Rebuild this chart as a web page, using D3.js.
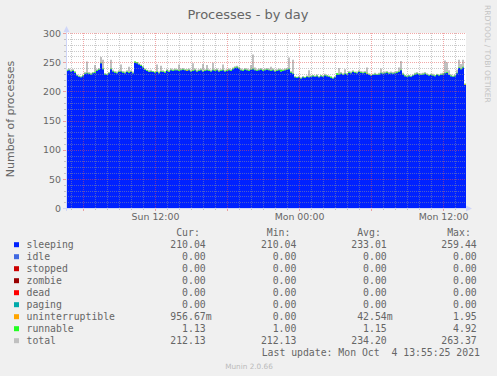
<!DOCTYPE html>
<html><head><meta charset="utf-8">
<script src="https://cdn.jsdelivr.net/npm/d3@7"></script>
<style>
html,body{margin:0;padding:0;background:#f0f0f0;}
svg{display:block;}
text{font-family:"DejaVu Sans",sans-serif;}
.mono{font-family:"DejaVu Sans Mono",monospace;white-space:pre;}
</style></head><body><svg id="c" width="497" height="376"></svg>
<script>
const title = "Processes - by day";
const yLabel = "Number of processes";
const watermark = "RRDTOOL / TOBI OETIKER";
const footer = "Munin 2.0.66";
const lastUpdate = "Last update: Mon Oct  4 13:55:25 2021";
const startTime = new Date(2021, 9, 3, 4, 35);
const endTime = new Date(2021, 9, 4, 13, 55);
const stepMinutes = 10;

const sleeping = [
235,236,234,235,232,227,225,224,226,230,231,230,229,231,232,235,237,248,238,229,
228,231,238,234,232,231,233,234,232,231,233,232,233,231,249,248,246,244,241,237,
235,233,234,233,232,233,231,234,233,232,235,233,236,235,236,236,235,236,237,236,
235,236,234,235,236,234,235,236,234,235,236,235,234,236,235,236,234,235,236,234,
235,236,235,238,240,241,239,236,235,237,236,235,237,238,236,235,236,237,235,236,
237,236,235,236,234,235,236,234,235,236,237,238,232,230,224,223,224,222,224,223,
225,224,225,226,225,226,224,226,225,227,226,225,223,222,224,228,229,230,228,230,
229,232,231,233,232,231,233,232,231,232,230,228,227,228,229,228,229,231,230,231,
232,230,231,230,231,232,233,236,229,226,225,226,225,227,229,230,229,228,229,230,
228,227,228,227,226,228,227,228,229,231,232,228,226,225,226,231,240,238,241,211];

const total = [
238,239,237,238,235,229,227,226,228,233,251,233,232,233,245,238,240,259,254,231,
230,233,254,237,235,234,236,246,235,234,236,242,236,234,251,250,248,246,243,239,
237,236,237,235,234,246,234,244,236,235,238,236,239,238,239,238,246,239,240,238,
238,239,237,248,239,237,238,239,247,238,245,238,237,249,238,239,237,238,246,237,
238,239,238,241,243,244,242,239,238,240,239,238,245,263,241,238,239,240,238,239,
240,239,242,239,237,238,239,238,238,239,240,258,235,254,226,225,226,224,226,225,
227,236,227,228,227,229,226,228,227,230,228,227,226,224,226,231,240,233,231,238,
231,235,234,236,234,234,236,235,234,235,241,231,229,230,232,230,232,239,233,234,
235,233,234,233,234,235,241,252,232,228,227,228,227,229,232,233,231,231,232,233,
231,229,230,230,228,230,229,231,232,253,250,236,229,227,229,237,254,247,254,213];

const runnable = [
1,1,1,1,1,1,1,1,1,1,1,1,1,1,1,1,1,1,1,1,
1,1,1,1,1,1,1,1,1,1,1,1,1,1,2,2,1,1,1,1,
1,1,1,1,1,1,1,1,1,1,1,1,1,1,1,1,1,1,1,1,
1,1,1,1,1,1,1,1,1,1,1,1,1,1,1,1,1,1,1,1,
1,1,1,1,1,1,1,1,1,1,1,1,1,1,1,1,1,1,1,1,
1,1,1,1,1,1,1,3,1,1,1,1,1,1,1,1,1,1,1,1,
1,1,1,1,1,1,1,1,1,1,1,1,2,1,1,3,1,1,1,1,
1,1,1,1,1,1,1,1,1,1,1,1,1,1,1,1,1,1,1,1,
1,1,1,1,1,1,1,1,1,1,1,1,1,1,1,1,1,1,1,1,
1,1,1,1,1,1,1,1,1,1,1,1,1,1,1,1,1,1,1,1];

// sparse non-zero uninterruptible samples: [sample index, value]
const uninterruptibleSpikes = [[60, 1], [150, 1], [199, 1]];

const yTicks = [0, 50, 100, 150, 200, 250, 300];

const legendNames = ["sleeping","idle","stopped","zombie","dead","paging","uninterruptible","runnable","total"];
const legendColors = ["#0022ff","#4169e1","#cc0000","#990000","#ff0000","#00aaaa","#ffa500","#22ff22","#c0c0c0"];
const curVals = ["210.04","0.00","0.00","0.00","0.00","0.00","956.67m","1.13","212.13"];
const minVals = ["210.04","0.00","0.00","0.00","0.00","0.00","0.00","1.00","212.13"];
const avgVals = ["233.01","0.00","0.00","0.00","0.00","0.00","42.54m","1.15","234.20"];
const maxVals = ["259.44","0.00","0.00","0.00","0.00","0.00","1.95","4.92","263.37"];
const colHeaders = ["Cur:","Min:","Avg:","Max:"];

const svg = d3.select("#c");
const L = 66, R = 466, T = 33, B = 208;
const x = d3.scaleTime().domain([startTime, endTime]).range([L, R]);
const y = d3.scaleLinear().domain([0, 300]).range([B, T]);
const FONT = "#666666";

const n = sleeping.length;
const tAt = i => new Date(startTime.getTime() + i * stepMinutes * 60000);
const unint = new Array(n).fill(0);
uninterruptibleSpikes.forEach(([i, v]) => unint[i] = v);
const rows = d3.range(n + 1).map(k => {
  const i = Math.min(k, n - 1);
  return { t: tAt(k), sleeping: sleeping[i], uninterruptible: unint[i], runnable: runnable[i], total: total[i] };
});

svg.append("rect").attr("x", L).attr("y", T).attr("width", R - L).attr("height", B - T).attr("fill", "#fff");

const g = svg.append("g");
g.append("path").datum(rows)
  .attr("fill", "#c0c0c0")
  .attr("d", d3.area().curve(d3.curveStepAfter).x(d => x(d.t)).y0(y(0)).y1(d => y(d.total)));

const stack = d3.stack().keys(["sleeping", "uninterruptible", "runnable"])(rows);
const stackColors = { sleeping: "#0022ff", uninterruptible: "#ffa500", runnable: "#22ff22" };
g.selectAll(".layer").data(stack).join("path")
  .attr("fill", d => stackColors[d.key])
  .attr("d", d3.area().curve(d3.curveStepAfter).x(d => x(d.data.t)).y0(d => y(d[0])).y1(d => y(d[1])));

const gridMinor = "rgba(150,150,150,0.5)";
const gridMajor = "rgba(230,80,80,0.5)";
const hours = x.ticks(d3.timeHour.every(1));
const majorHours = x.ticks(d3.timeHour.every(6));
const majorSet = new Set(majorHours.map(d => +d));
const grid = svg.append("g").attr("shape-rendering", "crispEdges");
const yMinor = d3.range(0, 301, 10);
grid.selectAll(".hm").data(yMinor.filter(v => v % 50 !== 0)).join("line")
  .attr("x1", L).attr("x2", R).attr("y1", d => Math.round(y(d)) + 0.5).attr("y2", d => Math.round(y(d)) + 0.5)
  .attr("stroke", gridMinor).attr("stroke-dasharray", "1,1");
grid.selectAll(".vm").data(hours.filter(d => !majorSet.has(+d))).join("line")
  .attr("x1", d => Math.round(x(d)) + 0.5).attr("x2", d => Math.round(x(d)) + 0.5).attr("y1", T).attr("y2", B)
  .attr("stroke", gridMinor).attr("stroke-dasharray", "1,1");
grid.selectAll(".hM").data(yTicks.filter(v => v > 0)).join("line")
  .attr("x1", L).attr("x2", R).attr("y1", d => Math.round(y(d)) + 0.5).attr("y2", d => Math.round(y(d)) + 0.5)
  .attr("stroke", gridMajor).attr("stroke-dasharray", "1,1");
grid.selectAll(".vM").data(majorHours).join("line")
  .attr("x1", d => Math.round(x(d)) + 0.5).attr("x2", d => Math.round(x(d)) + 0.5).attr("y1", T).attr("y2", B)
  .attr("stroke", gridMajor).attr("stroke-dasharray", "1,1");

grid.selectAll(".tx").data(hours).join("line")
  .attr("x1", d => Math.round(x(d)) + 0.5).attr("x2", d => Math.round(x(d)) + 0.5)
  .attr("y1", B).attr("y2", d => B + (majorSet.has(+d) ? 3 : 2))
  .attr("stroke", d => majorSet.has(+d) ? gridMajor : gridMinor);
grid.selectAll(".ty").data(yMinor).join("line")
  .attr("y1", d => Math.round(y(d)) + 0.5).attr("y2", d => Math.round(y(d)) + 0.5)
  .attr("x1", d => L - (d % 50 === 0 ? 3 : 2)).attr("x2", L)
  .attr("stroke", d => d % 50 === 0 ? gridMajor : gridMinor);

const AX = "#cfd6f8";
svg.append("line").attr("x1", L + 0.5).attr("x2", L + 0.5).attr("y1", B + 3).attr("y2", T - 4).attr("stroke", AX);
svg.append("line").attr("x1", L - 3).attr("x2", R + 3).attr("y1", B + 0.5).attr("y2", B + 0.5).attr("stroke", AX);
svg.append("path").attr("d", `M${L + 0.5},${T - 7} L${L - 2.5},${T - 1} L${L + 3.5},${T - 1} Z`).attr("fill", AX);
svg.append("path").attr("d", `M${R + 6},${B + 0.5} L${R},${B - 2.5} L${R},${B + 3.5} Z`).attr("fill", AX);

const yAxis = svg.append("g").attr("transform", `translate(${L - 5},0)`)
  .call(d3.axisLeft(y).tickValues(yTicks).tickSize(0).tickPadding(0));
yAxis.select(".domain").remove();
yAxis.selectAll("text").attr("font-family", "DejaVu Sans").attr("font-size", "9.4px").attr("fill", FONT).attr("dy", "0.34em");

const xAxis = svg.append("g").attr("transform", `translate(0,${B})`)
  .call(d3.axisBottom(x).ticks(d3.timeHour.every(12)).tickFormat(d3.timeFormat("%a %H:%M")).tickSize(0).tickPadding(0));
xAxis.select(".domain").remove();
xAxis.selectAll("text").attr("font-family", "DejaVu Sans").attr("font-size", "9.4px").attr("fill", FONT).attr("dy", null).attr("y", 12);

svg.append("text").attr("x", 248).attr("y", 18.5).attr("text-anchor", "middle")
  .attr("font-size", "13px").attr("fill", FONT).text(title);
svg.append("text").attr("transform", "translate(14,119) rotate(-90)").attr("text-anchor", "middle")
  .attr("font-size", "11px").attr("fill", FONT).text(yLabel);
svg.append("text").attr("transform", "translate(485,5) rotate(90)").attr("text-anchor", "start")
  .attr("font-size", "7.6px").attr("fill", "#c4c4c4").text(watermark);
svg.append("text").attr("x", 249).attr("y", 369).attr("text-anchor", "middle")
  .attr("font-size", "7.3px").attr("fill", "#bbbbbb").text(footer);

const LF = "9.8px", CW = 5.9;
const colRight = [205.7, 296.3, 386.7, 476.7];
const leg = svg.append("g").attr("class", "mono");
colHeaders.forEach((h, j) => {
  leg.append("text").attr("class", "mono").attr("x", colRight[j] - CW).attr("y", 236).attr("text-anchor", "end")
    .attr("font-size", LF).attr("fill", FONT).text(h);
});
const cols = [curVals, minVals, avgVals, maxVals];
legendNames.forEach((name, i) => {
  const cy = 244.7 + 12 * i;
  leg.append("rect").attr("x", 14).attr("y", cy - 2.5).attr("width", 5).attr("height", 5).attr("fill", legendColors[i]);
  leg.append("text").attr("class", "mono").attr("x", 26.5).attr("y", cy + 3.4).attr("font-size", LF).attr("fill", FONT).text(name);
  cols.forEach((vals, j) => {
    const s = vals[i];
    const m = s.match(/^([\d.]+)([a-zA-Z]?)$/);
    leg.append("text").attr("class", "mono").attr("x", colRight[j]).attr("y", cy + 3.4).attr("text-anchor", "end")
      .attr("font-size", LF).attr("fill", FONT).text(m[1]);
    if (m[2]) leg.append("text").attr("class", "mono").attr("x", colRight[j]).attr("y", cy + 3.4)
      .attr("font-size", LF).attr("fill", FONT).text(m[2]);
  });
});
leg.append("text").attr("class", "mono").attr("x", 261.7).attr("y", 356).attr("font-size", LF).attr("fill", FONT).text(lastUpdate);
</script></body></html>
